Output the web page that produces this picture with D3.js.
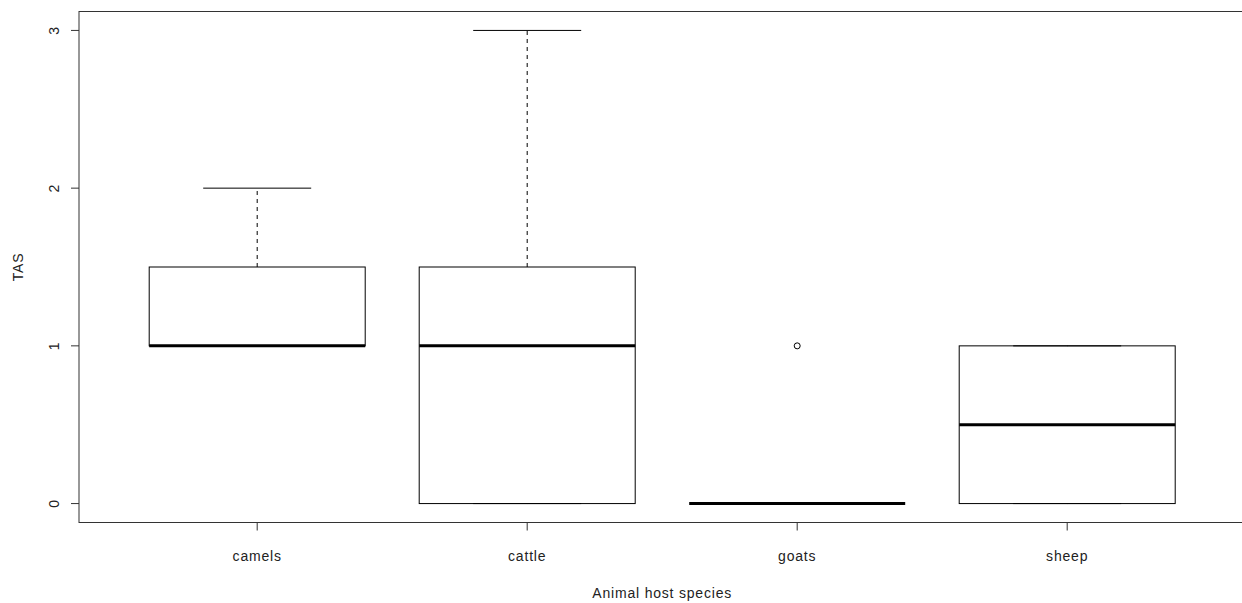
<!DOCTYPE html>
<html>
<head>
<meta charset="utf-8">
<script src="https://cdn.jsdelivr.net/npm/d3@7"></script>
<style>
  body { margin: 0; background: #fff; overflow: hidden; }
  svg text { font-family: "Liberation Sans", Arial, sans-serif; font-size: 14px; letter-spacing: 0.8px; fill: #222; }
</style>
</head>
<body>
<script>
// box statistics
var species = ["camels", "cattle", "goats", "sheep"];
var lowWhisker = [1, 0, 0, 0];
var q1 = [1, 0, 0, 0];
var medians = [1, 1, 0, 0.5];
var q3 = [1.5, 1.5, 0, 1];
var highWhisker = [2, 3, 0, 1];
var outliers = [{ group: "goats", value: 1 }];
var yTicks = [0, 1, 2, 3];

function drawBoxplot() {
    var width = 1242, height = 603;
    var svg = d3.select("body").append("svg")
        .attr("width", width)
        .attr("height", height);

    // plot region, R style (4% extension of each range)
    var plotLeft = 79, plotTop = 11.5, plotBottom = 522.5;
    var x = d3.scaleLinear().domain([0.34, 4.66]).range([plotLeft, plotLeft + 4.32 * 270]);
    var y = d3.scaleLinear().domain([-0.12, 3.12]).range([plotBottom, plotTop]);

    var boxHalf = 0.4, capHalf = 0.2;

    // frame (right side runs past the window, as in the original)
    svg.append("rect")
        .attr("x", x(0.34))
        .attr("y", y(3.12))
        .attr("width", x(4.66) - x(0.34))
        .attr("height", y(-0.12) - y(3.12))
        .attr("fill", "none")
        .attr("stroke", "#333")
        .attr("stroke-width", 1);

    // y axis
    var yAxis = svg.append("g");
    yAxis.selectAll(".tick")
        .data(yTicks)
        .enter()
        .append("line")
        .attr("x1", plotLeft - 8)
        .attr("x2", plotLeft)
        .attr("y1", function (d) { return y(d); })
        .attr("y2", function (d) { return y(d); })
        .attr("stroke", "#333");
    yAxis.selectAll(".lab")
        .data(yTicks)
        .enter()
        .append("text")
        .attr("transform", function (d) { return "translate(" + (plotLeft - 20) + "," + y(d) + ") rotate(-90)"; })
        .attr("text-anchor", "middle")
        .text(function (d) { return d; });

    // x axis
    var xAxis = svg.append("g");
    xAxis.selectAll(".tick")
        .data(species)
        .enter()
        .append("line")
        .attr("x1", function (d, i) { return x(i + 1); })
        .attr("x2", function (d, i) { return x(i + 1); })
        .attr("y1", plotBottom)
        .attr("y2", plotBottom + 8)
        .attr("stroke", "#333");
    xAxis.selectAll(".lab")
        .data(species)
        .enter()
        .append("text")
        .attr("x", function (d, i) { return x(i + 1); })
        .attr("y", 561)
        .attr("text-anchor", "middle")
        .text(function (d) { return d; });

    // axis titles
    svg.append("text")
        .attr("x", x(2.5))
        .attr("y", 598)
        .attr("text-anchor", "middle")
        .text("Animal host species");
    svg.append("text")
        .attr("transform", "translate(23," + y(1.5) + ") rotate(-90)")
        .attr("text-anchor", "middle")
        .text("TAS");

    // boxes
    species.forEach(function (name, i) {
        var c = i + 1;
        var g = svg.append("g");
        // whiskers
        g.append("line")
            .attr("x1", x(c)).attr("x2", x(c))
            .attr("y1", y(q3[i])).attr("y2", y(highWhisker[i]))
            .attr("stroke", "#000").attr("stroke-dasharray", "4,4");
        g.append("line")
            .attr("x1", x(c)).attr("x2", x(c))
            .attr("y1", y(q1[i])).attr("y2", y(lowWhisker[i]))
            .attr("stroke", "#000").attr("stroke-dasharray", "4,4");
        // caps
        [lowWhisker[i], highWhisker[i]].forEach(function (v) {
            g.append("line")
                .attr("x1", x(c - capHalf)).attr("x2", x(c + capHalf))
                .attr("y1", y(v)).attr("y2", y(v))
                .attr("stroke", "#000");
        });
        // box
        g.append("rect")
            .attr("x", x(c - boxHalf))
            .attr("y", y(q3[i]))
            .attr("width", x(c + boxHalf) - x(c - boxHalf))
            .attr("height", y(q1[i]) - y(q3[i]))
            .attr("fill", "none")
            .attr("stroke", "#000");
        // median
        g.append("line")
            .attr("x1", x(c - boxHalf)).attr("x2", x(c + boxHalf))
            .attr("y1", y(medians[i])).attr("y2", y(medians[i]))
            .attr("stroke", "#000").attr("stroke-width", 3);
    });

    // outliers
    svg.selectAll(".outlier")
        .data(outliers)
        .enter()
        .append("circle")
        .attr("cx", function (d) { return x(species.indexOf(d.group) + 1); })
        .attr("cy", function (d) { return y(d.value); })
        .attr("r", 3)
        .attr("fill", "none")
        .attr("stroke", "#000");
}

drawBoxplot();
</script>
</body>
</html>
